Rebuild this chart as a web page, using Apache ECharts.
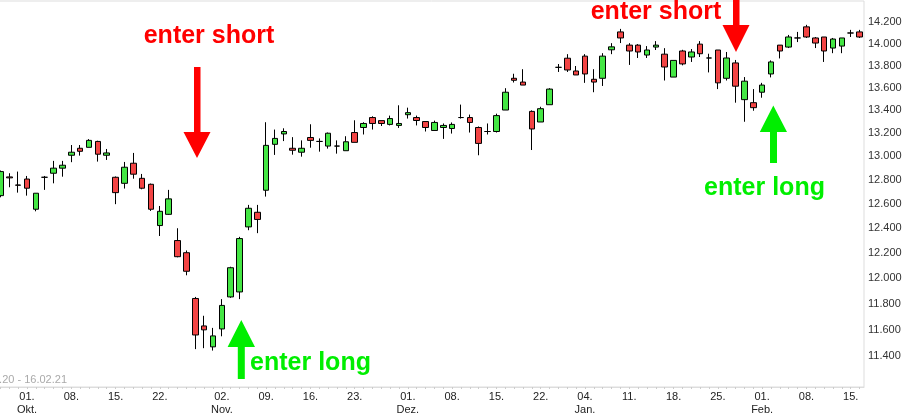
<!DOCTYPE html>
<html>
<head>
<meta charset="utf-8">
<script src="https://cdn.jsdelivr.net/npm/echarts@6/dist/echarts.min.js"></script>
<style>
html,body{margin:0;padding:0;background:#fff;}
#chart{width:907px;height:417px;}
</style>
</head>
<body>
<div id="chart"></div>
<script>
const dates = [
 '2020-09-28','2020-09-29','2020-09-30',
 '2020-10-01','2020-10-02','2020-10-05','2020-10-06','2020-10-07','2020-10-08','2020-10-09',
 '2020-10-12','2020-10-13','2020-10-14','2020-10-15','2020-10-16','2020-10-19','2020-10-20',
 '2020-10-21','2020-10-22','2020-10-23','2020-10-26','2020-10-27','2020-10-28','2020-10-29','2020-10-30',
 '2020-11-02','2020-11-03','2020-11-04','2020-11-05','2020-11-06','2020-11-09','2020-11-10',
 '2020-11-11','2020-11-12','2020-11-13','2020-11-16','2020-11-17','2020-11-18','2020-11-19',
 '2020-11-20','2020-11-23','2020-11-24','2020-11-25','2020-11-26','2020-11-27','2020-11-30',
 '2020-12-01','2020-12-02','2020-12-03','2020-12-04','2020-12-07','2020-12-08','2020-12-09',
 '2020-12-10','2020-12-11','2020-12-14','2020-12-15','2020-12-16','2020-12-17','2020-12-18',
 '2020-12-21','2020-12-22','2020-12-23','2020-12-28','2020-12-29','2020-12-30',
 '2021-01-04','2021-01-05','2021-01-06','2021-01-07','2021-01-08','2021-01-11','2021-01-12',
 '2021-01-13','2021-01-14','2021-01-15','2021-01-18','2021-01-19','2021-01-20','2021-01-21',
 '2021-01-22','2021-01-25','2021-01-26','2021-01-27','2021-01-28','2021-01-29',
 '2021-02-01','2021-02-02','2021-02-03','2021-02-04','2021-02-05','2021-02-08','2021-02-09',
 '2021-02-10','2021-02-11','2021-02-12','2021-02-15','2021-02-16'
];
const opens = [
 12669,12826,12758,
 12808,12556,12823,12857,12900,13010,13070,13078,13129,13010,12823,12772,12942,12814,12764,12422,12514,12300,12202,11840,11628,11469,
 11605,11852,11891,12411,12531,12714,13104,13194,13070,13036,13163,13129,13089,13089,13049,13206,13250,13337,13310,13277,13268,
 13362,13337,13302,13224,13250,13241,13337,13337,13250,13215,13215,13403,13686,13652,13391,13298,13450,13785,13868,13752,
 13887,13677,13686,13945,14110,13988,13988,13897,13970,13905,13697,13934,13879,13997,13870,13943,13686,13825,13495,13468,
 13561,13725,13988,13970,14054,14157,14054,14063,13961,13979,14100,14110
];
const closes = [
 12871,12818,12756,
 12731,12689,12823,12900,12925,13036,13044,13138,13019,13030,12694,12908,12849,12731,12556,12539,12642,12170,12054,11559,11598,11552,
 11786,12082,12316,12564,12472,13095,13155,13215,13053,13070,13138,13129,13200,13089,13126,13121,13285,13285,13285,13328,13285,
 13380,13311,13250,13294,13268,13277,13337,13294,13112,13215,13354,13561,13668,13625,13237,13415,13589,13785,13761,13716,
 13725,13652,13887,13972,14054,13934,13925,13943,13988,13788,13848,13816,13925,13909,13870,13645,13870,13615,13660,13424,
 13625,13834,13934,14063,14054,14063,14007,13934,14044,14054,14100,14063
];
const lows = [
 12655,12739,12694,
 12669,12539,12717,12772,12828,12951,13007,13078,12956,12970,12598,12728,12811,12722,12542,12337,12510,12165,12022,11452,11459,11441,
 11549,11845,11835,12384,12360,12661,13013,13132,13015,12998,13075,13041,13067,13024,13049,13121,13189,13232,13263,13268,13246,
 13328,13268,13215,13224,13151,13197,13328,13206,13010,13189,13206,13403,13648,13625,13055,13298,13450,13743,13743,13716,
 13645,13561,13617,13905,14007,13807,13870,13870,13943,13666,13697,13803,13834,13879,13739,13589,13666,13468,13300,13397,
 13512,13694,13866,13961,14016,14054,13961,13834,13914,13914,14063,14054
];
const highs = [
 12880,12857,12871,
 12834,12689,12834,12962,12962,13098,13098,13149,13135,13064,12830,12953,13030,12851,12770,12583,12717,12400,12220,11852,11706,11613,
 11835,12090,12330,12592,12592,13296,13232,13243,13166,13138,13278,13155,13206,13138,13174,13313,13296,13348,13310,13354,13445,
 13424,13354,13302,13310,13285,13294,13451,13363,13259,13285,13371,13597,13727,13768,13400,13432,13597,13815,13905,13797,
 13905,13768,13914,14006,14138,14006,13997,13979,14025,13960,13848,13945,13952,14025,13909,13943,13925,13852,13697,13589,
 13645,13848,13988,14082,14110,14176,14063,14063,14054,14054,14129,14129
];
const xTickDates = ['2020-10-01','2020-10-08','2020-10-15','2020-10-22','2020-11-02','2020-11-09','2020-11-16','2020-11-23',
 '2020-12-01','2020-12-08','2020-12-15','2020-12-22','2021-01-04','2021-01-11','2021-01-18','2021-01-25',
 '2021-02-01','2021-02-08','2021-02-15'];
const monthStarts = ['2020-10-01','2020-11-02','2020-12-01','2021-01-04','2021-02-01'];
const monthNames = ['Okt.','Nov.','Dez.','Jan.','Feb.'];
const yTicks = [11400,11600,11800,12000,12200,12400,12600,12800,13000,13200,13400,13600,13800,14000,14200];
const rangeText = '28.09.20 - 16.02.21';

const candleData = dates.map((d, i) => [opens[i], closes[i], lows[i], highs[i]]);
const tickSet = new Set(xTickDates);
const FONT = '"Liberation Sans", Arial, sans-serif';
const RED = '#ff0000', GREEN = '#00ee00';

function fmtThousands(v) {
  const n = Math.round(v);
  return String(n).replace(/\B(?=(\d{3})+(?!\d))/g, '.');
}

const chart = echarts.init(document.getElementById('chart'), null, {renderer: 'canvas'});
const option = {
  animation: false,
  backgroundColor: '#fff',
  grid: {
    left: -4, right: 43, top: 1, bottom: 30,
    show: true, borderColor: '#dddddd', borderWidth: 1,
    outerBoundsMode: 'none', containLabel: false
  },
  xAxis: {
    type: 'category',
    data: dates,
    boundaryGap: true,
    axisLine: {show: true, lineStyle: {color: '#dddddd'}},
    axisTick: {show: true, interval: 0, alignWithLabel: true, length: 2, lineStyle: {color: '#cccccc'}},
    splitLine: {show: false},
    axisLabel: {
      interval: (idx, val) => tickSet.has(val),
      fontFamily: FONT, fontSize: 11, color: '#222', margin: 3, lineHeight: 13,
      formatter: (val) => {
        const day = val.slice(8, 10) + '.';
        const mi = monthStarts.indexOf(val);
        return mi >= 0 ? day + '\n' + monthNames[mi] : day;
      }
    }
  },
  yAxis: {
    type: 'log',
    logBase: 10,
    position: 'right',
    min: 11170, max: 14400,
    axisLine: {show: false},
    axisTick: {show: false},
    splitLine: {show: false},
    axisLabel: {
      customValues: yTicks,
      fontFamily: FONT, fontSize: 11, color: '#333', margin: 4,
      formatter: (v) => fmtThousands(v)
    }
  },
  series: [{
    type: 'candlestick',
    data: candleData,
    barWidth: 6,
    itemStyle: {
      color: '#44e644', color0: '#f24444',
      borderColor: '#000', borderColor0: '#000', borderColorDoji: '#000',
      borderWidth: 1
    }
  }],
  graphic: [
    {type: 'text', x: 67, y: 379.5, style: {text: rangeText, font: '11px ' + FONT, fill: '#aaaaaa', align: 'right', verticalAlign: 'middle', textAlign: 'right', textVerticalAlign: 'middle'}},
    {type: 'polygon', shape: {points: [[194,67],[200.5,67],[200.5,132],[210.5,132],[197,158],[183.5,132],[194,132]]}, style: {fill: RED}},
    {type: 'polygon', shape: {points: [[733,-2],[739.5,-2],[739.5,25],[749.5,25],[736,52],[722.5,25],[733,25]]}, style: {fill: RED}},
    {type: 'polygon', shape: {points: [[241.3,320],[255,347],[244.8,347],[244.8,379],[237.8,379],[237.8,347],[227.6,347]]}, style: {fill: GREEN}},
    {type: 'polygon', shape: {points: [[773.3,105.5],[787,132],[777,132],[777,163],[770,163],[770,132],[759.8,132]]}, style: {fill: GREEN}},
    {type: 'text', x: 209, y: 36.5, style: {text: 'enter short', font: 'bold 25px ' + FONT, fill: RED, align: 'center', verticalAlign: 'middle', textAlign: 'center', textVerticalAlign: 'middle'}},
    {type: 'text', x: 656, y: 12.5, style: {text: 'enter short', font: 'bold 25px ' + FONT, fill: RED, align: 'center', verticalAlign: 'middle', textAlign: 'center', textVerticalAlign: 'middle'}},
    {type: 'text', x: 310.5, y: 363, style: {text: 'enter long', font: 'bold 25px ' + FONT, fill: GREEN, align: 'center', verticalAlign: 'middle', textAlign: 'center', textVerticalAlign: 'middle'}},
    {type: 'text', x: 764.5, y: 188, style: {text: 'enter long', font: 'bold 25px ' + FONT, fill: GREEN, align: 'center', verticalAlign: 'middle', textAlign: 'center', textVerticalAlign: 'middle'}}
  ]
};
chart.setOption(option);
</script>
</body>
</html>
